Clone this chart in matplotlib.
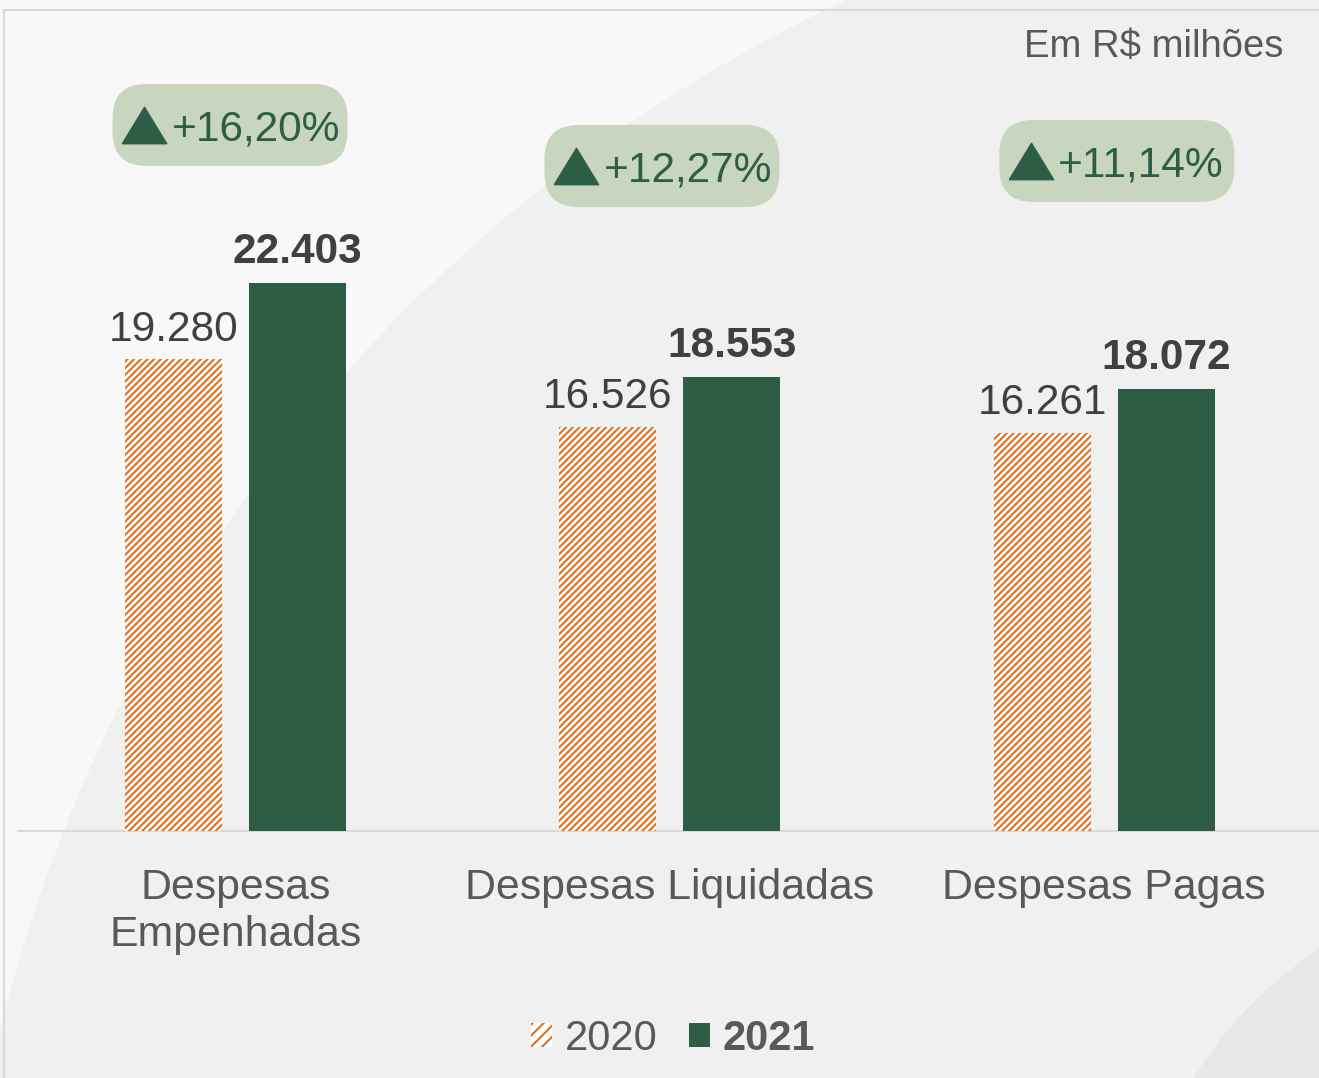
import matplotlib
matplotlib.use("Agg")
import matplotlib.pyplot as plt
import numpy as np
from matplotlib.patches import FancyBboxPatch, Circle, Rectangle, Patch
from matplotlib.transforms import ScaledTranslation, IdentityTransform

# ---- data ----
categories = ["Despesas\nEmpenhadas", "Despesas Liquidadas", "Despesas Pagas"]
series_names = ["2020", "2021"]
values_2020 = [19280, 16526, 16261]
values_2021 = [22403, 18553, 18072]
labels_2020 = ["19.280", "16.526", "16.261"]
labels_2021 = ["22.403", "18.553", "18.072"]
growth_labels = ["+16,20%", "+12,27%", "+11,14%"]
growth_y = [28864, 27187, 27392]
growth_dx = [-0.012, -0.018, 0.029]
unit_label = "Em R$ milhões"

# ---- style ----
GREEN = "#2d5e45"
ORANGE = "#e0701e"
PILL = "#c8d6c0"
GREY_TXT = "#595959"
VAL_TXT = "#404040"

plt.rcParams["font.family"] = ["Liberation Sans", "DejaVu Sans"]
plt.rcParams["hatch.linewidth"] = 1.5

W, H = 1319, 1078
fig = plt.figure(figsize=(W / 100, H / 100), dpi=100)
fig.patch.set_facecolor("#f8f8f8")

# subtle background shapes (display pixel coords)
fig.add_artist(Circle((1500, H - 1400), 1545, transform=IdentityTransform(),
                      facecolor="#f0f0f0", edgecolor="none", zorder=-5))
fig.add_artist(Circle((1550, H - 1300), 420, transform=IdentityTransform(),
                      facecolor="#e7e7e7", edgecolor="none", zorder=-4))
# frame
fig.add_artist(Rectangle((4 / W, -0.1), 2, 1 - 10 / H + 0.1, transform=fig.transFigure,
                         fill=False, edgecolor="#d9d9d9", lw=1.5, zorder=-3))

ax_left = 18 / W
ax_bottom = (H - 831) / H
ax_top = (H - 10) / H
scale = 548 / 22403  # px per unit
ax = fig.add_axes([ax_left, ax_bottom, 1303.5 / W, ax_top - ax_bottom])
ax.set_facecolor("none")
ax.set_xlim(-0.5, 2.5)
ax.set_ylim(0, 821 / scale)

x = np.arange(len(categories))
bw = 0.2233
off = 0.1427
b1 = ax.bar(x - off, values_2020, bw, facecolor="white", edgecolor=ORANGE,
            hatch="/////", linewidth=0, label=series_names[0], zorder=3)
b2 = ax.bar(x + off, values_2021, bw, color=GREEN, linewidth=0,
            label=series_names[1], zorder=3)

for i in range(len(categories)):
    ax.annotate(labels_2020[i], (x[i] - off, values_2020[i]), xytext=(0, 13.5),
                textcoords="offset points", ha="center", va="baseline",
                fontsize=30.5, color=VAL_TXT)
    ax.annotate(labels_2021[i], (x[i] + off, values_2021[i]), xytext=(0, 14.5),
                textcoords="offset points", ha="center", va="baseline",
                fontsize=30.5, color=VAL_TXT, fontweight="bold")

# growth pills
for i in range(len(categories)):
    xc = x[i] + growth_dx[i]
    yc = growth_y[i]
    trans = fig.dpi_scale_trans + ScaledTranslation(xc, yc, ax.transData)
    pill = FancyBboxPatch((-1.175, -0.41), 2.35, 0.82,
                          boxstyle="round,pad=0,rounding_size=0.34",
                          transform=trans, facecolor=PILL, edgecolor="none", zorder=4)
    ax.add_patch(pill)
    tri = np.array([[-1, -0.82], [1, -0.82], [0, 0.82], [-1, -0.82]])
    ax.plot([-0.86], [0.0], transform=trans, marker=tri, markersize=32,
            color=GREEN, linestyle="none", zorder=5)
    ax.text(-0.585, -0.155, growth_labels[i], transform=trans, ha="left",
            va="baseline", fontsize=30.5, color=GREEN, zorder=5)

# axes cosmetics
for s in ["top", "right", "left"]:
    ax.spines[s].set_visible(False)
ax.spines["bottom"].set_color("#d9d9d9")
ax.spines["bottom"].set_linewidth(1.5)
ax.set_yticks([])
ax.set_xticks(x)
ax.set_xticklabels(categories, fontsize=30.8, color=GREY_TXT, linespacing=1.22)
ax.tick_params(axis="x", length=0, pad=27)

fig.text(1283 / W, 1 - 57 / H, unit_label, ha="right", va="baseline",
         fontsize=27.5, color=GREY_TXT)

handles = [Patch(facecolor="white", edgecolor=ORANGE, hatch="///", linewidth=0),
           Patch(facecolor=GREEN, edgecolor="none")]
leg = fig.legend(handles, series_names, loc="center", bbox_to_anchor=(673 / W, 1 - 1039 / H),
                 ncol=2, frameon=False, fontsize=30, handlelength=0.5, handleheight=0.5,
                 handletextpad=0.3, columnspacing=0.75, labelcolor=GREY_TXT)
leg.get_texts()[1].set_fontweight("bold")

fig.savefig("out.png", dpi=100, facecolor=fig.get_facecolor())
